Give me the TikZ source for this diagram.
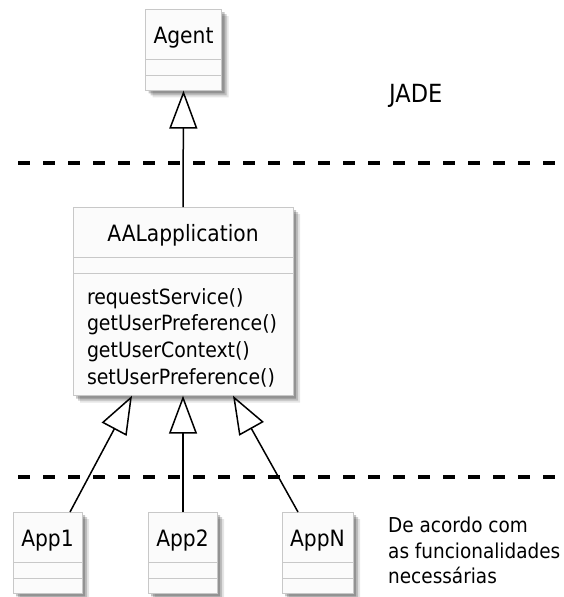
\documentclass[tikz,border=0pt]{standalone}
\usepackage{fontspec}
\setmainfont{DejaVu Sans Condensed}
\usetikzlibrary{arrows.meta,positioning,shapes.multipart,shadows}
\definecolor{boxfill}{HTML}{FBFBFB}
\definecolor{boxline}{HTML}{C8C8C8}
\newcommand{\clname}[1]{\rule[-16pt]{0pt}{50pt}{\fontsize{22.5}{27}\selectfont#1}}
\newcommand{\nomembers}{\rule{0pt}{15pt}}
\tikzset{
umlclass/.style={draw=boxline,fill=boxfill,rectangle split,rectangle split parts=3,inner xsep=4pt,inner ysep=0pt,anchor=north,align=left,
  font=\fontsize{21}{26.7}\selectfont,
  drop shadow={shadow xshift=7pt,shadow yshift=-7pt,fill=black,opacity=.10},
  drop shadow={shadow xshift=5pt,shadow yshift=-5pt,fill=black,opacity=.18},
  drop shadow={shadow xshift=3pt,shadow yshift=-3pt,fill=black,opacity=.22}},
inherit/.style={-{Triangle[open,length=38pt,width=28pt]},line width=1.5pt},
tierline/.style={line width=4pt,dash pattern=on 12pt off 13pt},
remark/.style={inner sep=0pt,align=left,font=\fontsize{20.5}{25.5}\selectfont}
}
\begin{document}
\begin{tikzpicture}[x=1pt,y=-1pt]
\useasboundingbox (0,0) rectangle (563,597);
\coordinate (jadeL) at (18,163);\coordinate (jadeR) at (563,163);
\coordinate (appL) at (18,477);\coordinate (appR) at (563,477);
\draw[tierline](jadeL)--(jadeR);\draw[tierline](appL)--(appR);
\node[umlclass,minimum width=76pt](agent) at (183.5,9){\clname{Agent}\nodepart{two}\nomembers\nodepart{three}\nomembers};
\node[umlclass,inner xsep=14pt,minimum width=220pt,rectangle split part align={center,center,left}](aal) at (183,207){\clname{AALapplication}\nodepart{two}\nomembers
 \nodepart{three}\rule{0pt}{31pt}requestService()\\getUserPreference()\\getUserContext()\\setUserPreference()\rule[-11pt]{0pt}{11pt}};
\node[umlclass,minimum width=69pt](app1) at (47.5,512){\clname{App1}\nodepart{two}\nomembers\nodepart{three}\nomembers};
\node[umlclass,minimum width=69pt](app2) at (182.5,512){\clname{App2}\nodepart{two}\nomembers\nodepart{three}\nomembers};
\node[umlclass,minimum width=71pt](appn) at (317.5,512){\clname{AppN}\nodepart{two}\nomembers\nodepart{three}\nomembers};
\node[remark,anchor=base west](jade) at (389,102){\fontsize{25}{30}\selectfont JADE};
\node[remark,anchor=north west](scope) at (388,517){De acordo com\\as funcionalidades\\necessárias};
\draw[inherit](aal.north)--(agent.south);
\draw[inherit]([xshift=22.5pt]app1.north)--([xshift=-51pt]aal.south);
\draw[inherit]([xshift=0.5pt]app2.north)--(aal.south);
\draw[inherit]([xshift=-19.5pt]appn.north)--([xshift=50pt]aal.south);
\end{tikzpicture}
\end{document}
